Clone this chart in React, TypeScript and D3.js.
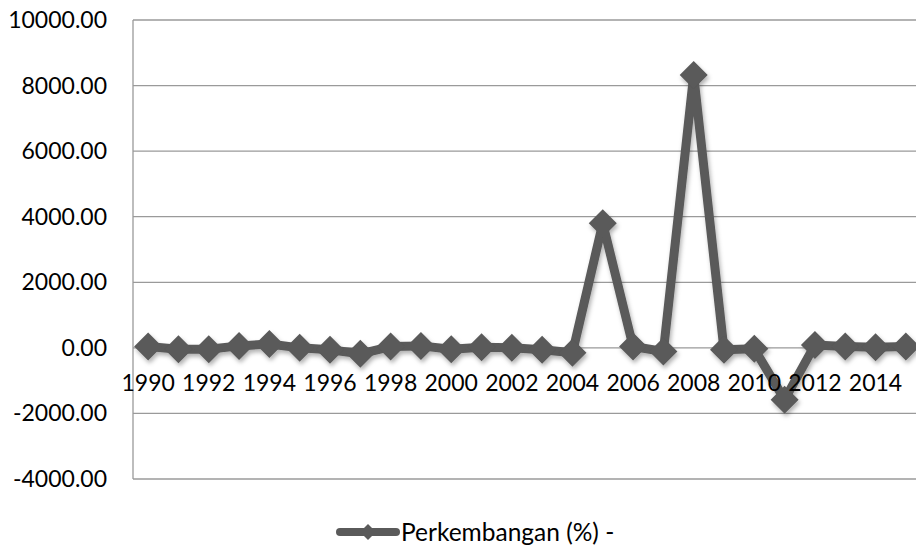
import React from "react";
import * as d3 from "d3";

const years = ["1990","1991","1992","1993","1994","1995","1996","1997","1998","1999","2000","2001","2002","2003","2004","2005","2006","2007","2008","2009","2010","2011","2012","2013","2014","2015"];
const values = [40, -40, -40, 60, 120, 0, -60, -180, 40, 60, -40, 20, 0, -60, -150, 3800, 40, -110, 8320, -60, -30, -1580, 90, 40, 20, 40];
const xLabels = ["1990","1992","1994","1996","1998","2000","2002","2004","2006","2008","2010","2012","2014"];
const yTicks = [-4000, -2000, 0, 2000, 4000, 6000, 8000, 10000];
const seriesName = "Perkembangan (%) -";

const W = 916, H = 549;
const FONT = "Lato, 'Open Sans', sans-serif";
const LINE = "#5a5a5a";
const GRID = "#9a9a9a";

export default function App() {
  const x = d3.scaleBand().domain(years).range([133, 921]).padding(0);
  const cx = (d: string) => (x(d) as number) + x.bandwidth() / 2;
  const y = d3.scaleLinear().domain([-4000, 10000]).range([479, 20]);
  const fmt = (v: number) => d3.format(".2f")(v).replace("\u2212", "-");
  const pts: [number, number][] = years.map((yr, i) => [cx(yr), y(values[i])]);
  const line = d3.line().curve(d3.curveLinear)(pts) as string;
  const dia = (px: number, py: number, r: number) =>
    `M${px},${py - r}L${px + r},${py}L${px},${py + r}L${px - r},${py}Z`;

  return (
    <svg width={W} height={H} style={{ position: "absolute", left: 0, top: 0, background: "#fff" }}>
      <defs>
        <filter id="sh" x="-20%" y="-20%" width="140%" height="140%">
          <feDropShadow dx="1.5" dy="3" stdDeviation="2" floodColor="#000" floodOpacity="0.3" />
        </filter>
      </defs>
      {yTicks.map((t) => (
        <line key={t} x1={133} x2={921} y1={y(t)} y2={y(t)} stroke={GRID} strokeWidth={1.3} />
      ))}
      <line x1={133} x2={133} y1={y(10000)} y2={y(-4000)} stroke={GRID} strokeWidth={1.3} />
      {yTicks.map((t) => (
        <text key={t} x={107} y={y(t)} dy="0.35em" textAnchor="end" fontFamily={FONT} fontSize={23} fill="#000">
          {fmt(t)}
        </text>
      ))}
      <g filter="url(#sh)">
        <path d={line} fill="none" stroke={LINE} strokeWidth={9} strokeLinejoin="round" />
        {pts.map(([px, py], i) => (
          <path key={i} d={dia(px, py, 14)} fill={LINE} />
        ))}
      </g>
      {xLabels.map((l) => (
        <text key={l} x={cx(l)} y={y(0) + 35} dy="0.35em" textAnchor="middle" fontFamily={FONT} fontSize={23} fill="#000">
          {l}
        </text>
      ))}
      <g>
        <line x1={340} x2={396} y1={532} y2={532} stroke={LINE} strokeWidth={8} strokeLinecap="round" />
        <path d={dia(368, 532, 8)} fill={LINE} />
        <text x={401} y={532} dy="0.35em" fontFamily={FONT} fontSize={24.5} fill="#000">{seriesName}</text>
      </g>
    </svg>
  );
}
